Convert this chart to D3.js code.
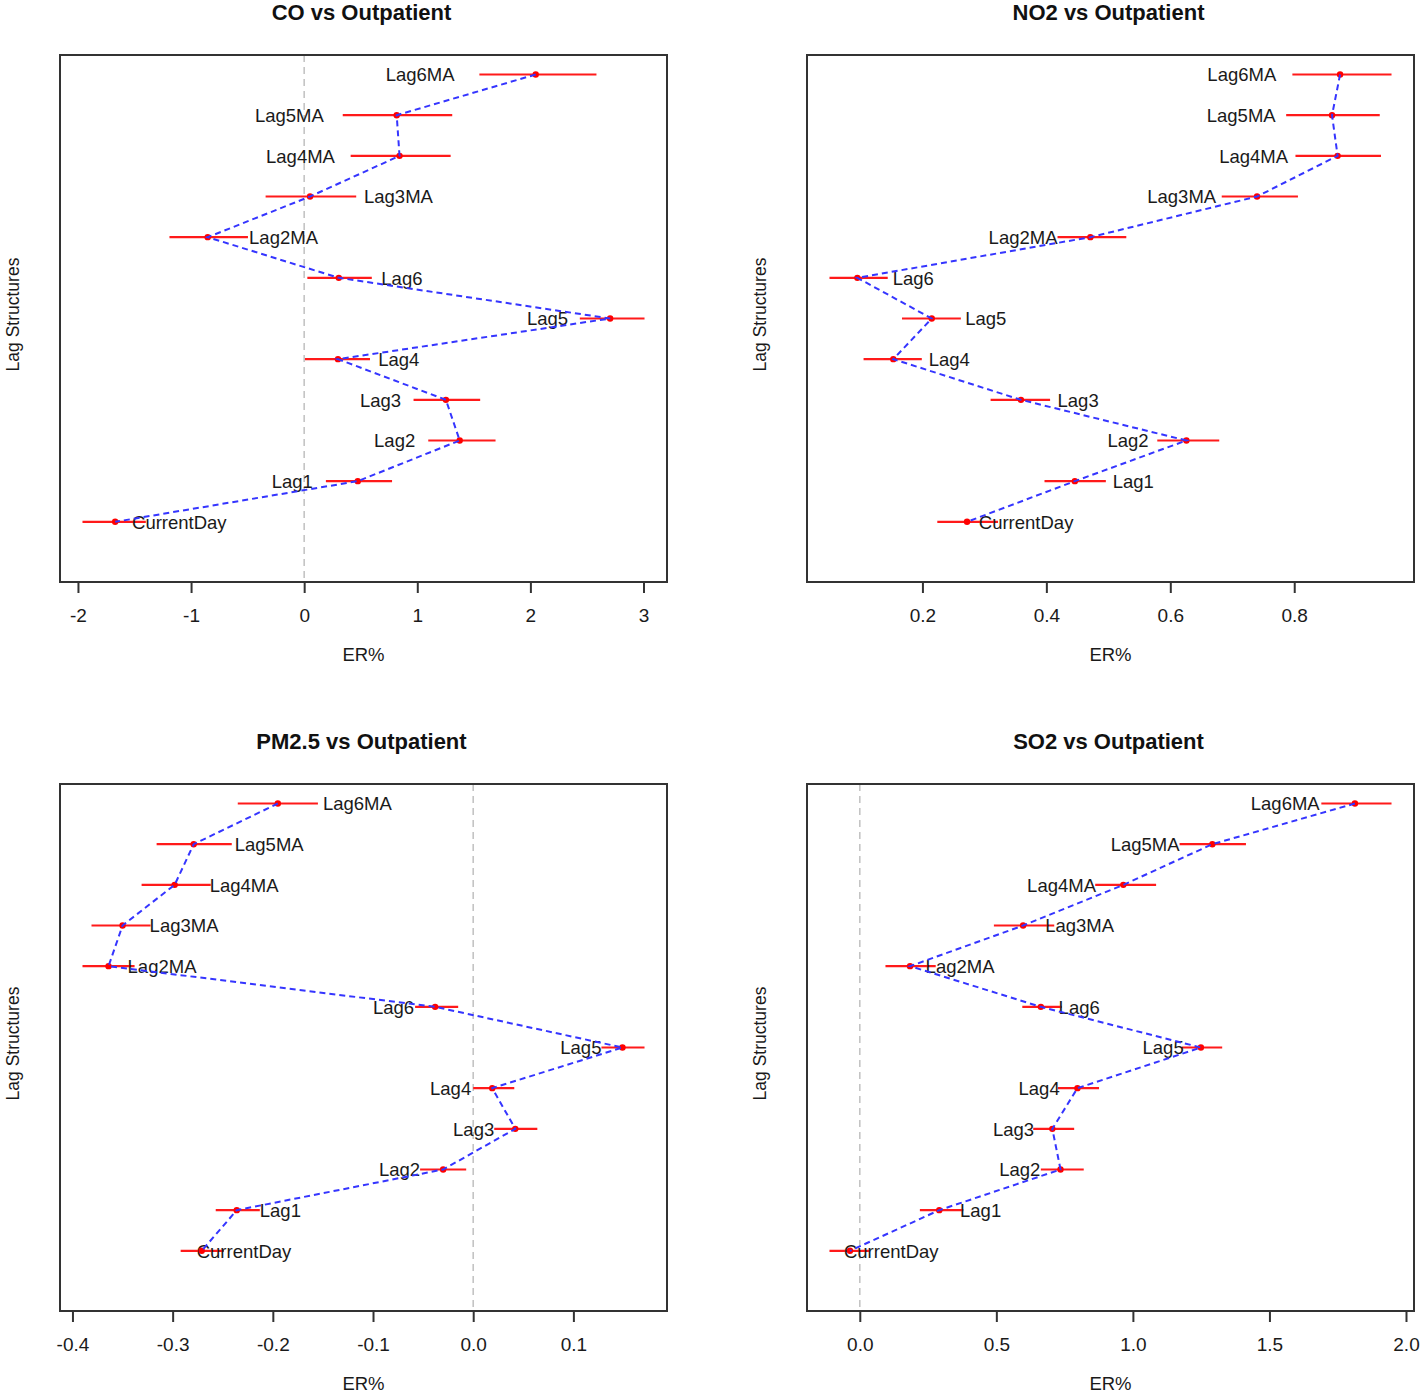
<!DOCTYPE html>
<html>
<head>
<meta charset="utf-8">
<script src="https://cdn.jsdelivr.net/npm/d3@7"></script>
<style>
  html, body { margin: 0; padding: 0; background: #fff; }
  svg { display: block; font-family: "Liberation Sans", Arial, sans-serif; }
</style>
</head>
<body>
<svg id="chart" width="1424" height="1395"></svg>
<script>
// ---------------- data ----------------
const categories = ["Lag6MA","Lag5MA","Lag4MA","Lag3MA","Lag2MA","Lag6","Lag5","Lag4","Lag3","Lag2","Lag1","CurrentDay"];

const titles = ["CO vs Outpatient", "NO2 vs Outpatient", "PM2.5 vs Outpatient", "SO2 vs Outpatient"];

// CO
const coEst   = [2.047, 0.818, 0.843, 0.052, -0.853, 0.306, 2.705, 0.299, 1.253, 1.375, 0.474, -1.671];
const coLow   = [1.549, 0.341, 0.411, -0.341, -1.191, 0.028, 2.437, 0.007, 0.967, 1.097, 0.192, -1.960];
const coHigh  = [2.584, 1.309, 1.295, 0.460, -0.497, 0.598, 3.009, 0.582, 1.556, 1.692, 0.777, -1.400];
const coLabX  = [1.330, 0.174, 0.272, 0.529, -0.487, 0.682, 2.333, 0.655, 0.857, 0.982, 0.077, -1.522];
const coSide  = ["L","L","L","R","R","R","L","R","L","L","L","R"];
const coTicks = [-2, -1, 0, 1, 2, 3];

// NO2
const no2Est  = [0.874, 0.861, 0.870, 0.740, 0.471, 0.095, 0.215, 0.153, 0.359, 0.626, 0.446, 0.272];
const no2Low  = [0.797, 0.787, 0.802, 0.683, 0.418, 0.050, 0.167, 0.105, 0.310, 0.579, 0.397, 0.224];
const no2High = [0.957, 0.938, 0.940, 0.806, 0.529, 0.144, 0.262, 0.199, 0.406, 0.679, 0.496, 0.322];
const no2LabX = [0.771, 0.770, 0.790, 0.674, 0.418, 0.152, 0.269, 0.210, 0.418, 0.565, 0.507, 0.291];
const no2Side = ["L","L","L","L","L","R","R","R","R","L","R","R"];
const no2Ticks = [0.2, 0.4, 0.6, 0.8];

// PM2.5
const pmEst   = [-0.195, -0.279, -0.298, -0.350, -0.364, -0.038, 0.149, 0.019, 0.042, -0.030, -0.236, -0.271];
const pmLow   = [-0.235, -0.316, -0.331, -0.381, -0.390, -0.058, 0.128, 0.000, 0.021, -0.053, -0.257, -0.292];
const pmHigh  = [-0.155, -0.241, -0.262, -0.322, -0.338, -0.015, 0.171, 0.041, 0.064, -0.007, -0.213, -0.249];
const pmLabX  = [-0.150, -0.238, -0.263, -0.323, -0.345, -0.059, 0.128, -0.002, 0.021, -0.053, -0.213, -0.276];
const pmSide  = ["R","R","R","R","R","L","L","L","L","L","R","R"];
const pmTicks = [-0.4, -0.3, -0.2, -0.1, 0.0, 0.1];

// SO2
const so2Est  = [1.813, 1.291, 0.965, 0.598, 0.184, 0.663, 1.249, 0.797, 0.705, 0.735, 0.291, -0.036];
const so2Low  = [1.690, 1.171, 0.862, 0.491, 0.094, 0.595, 1.179, 0.725, 0.635, 0.663, 0.220, -0.111];
const so2High = [1.947, 1.414, 1.085, 0.712, 0.278, 0.739, 1.327, 0.876, 0.785, 0.820, 0.379, 0.036];
const so2LabX = [1.684, 1.171, 0.865, 0.679, 0.241, 0.728, 1.186, 0.732, 0.638, 0.661, 0.367, -0.058];
const so2Side = ["L","L","L","R","R","R","L","L","L","L","R","R"];
const so2Ticks = [0.0, 0.5, 1.0, 1.5, 2.0];

const tickDecimals = [0, 1, 1, 1];

// ---------------- layout ----------------
const svg = d3.select("#chart");
const W = 607, H = 527;
const origins = [[60, 55], [807, 55], [60, 784], [807, 784]];

const panels = [
  {est: coEst,  low: coLow,  high: coHigh,  labX: coLabX,  side: coSide,  ticks: coTicks},
  {est: no2Est, low: no2Low, high: no2High, labX: no2LabX, side: no2Side, ticks: no2Ticks},
  {est: pmEst,  low: pmLow,  high: pmHigh,  labX: pmLabX,  side: pmSide,  ticks: pmTicks},
  {est: so2Est, low: so2Low, high: so2High, labX: so2LabX, side: so2Side, ticks: so2Ticks}
];

panels.forEach((p, i) => {
  const [ox, oy] = origins[i];
  const g = svg.append("g").attr("transform", `translate(${ox},${oy})`);

  // R-style 4% extension
  const lo = d3.min(p.low), hi = d3.max(p.high);
  const ext = (hi - lo) * 0.04;
  const x = d3.scaleLinear().domain([lo - ext, hi + ext]).range([0, W]);
  const y = d3.scaleLinear().domain([-0.48, 12.48]).range([H, 0]);

  const rows = categories.map((c, k) => ({
    cat: c, yv: 12 - k, est: p.est[k], low: p.low[k], high: p.high[k], labX: p.labX[k], side: p.side[k]
  }));

  // zero reference line
  const [d0, d1] = x.domain();
  if (0 > d0 && 0 < d1) {
    g.append("line")
      .attr("x1", x(0)).attr("x2", x(0))
      .attr("y1", 0).attr("y2", H)
      .attr("stroke", "#c4c4c4").attr("stroke-width", 1.6)
      .attr("stroke-dasharray", "7,5");
  }

  // CI segments
  g.selectAll("line.ci").data(rows).join("line")
    .attr("class", "ci")
    .attr("x1", d => x(d.low)).attr("x2", d => x(d.high))
    .attr("y1", d => y(d.yv)).attr("y2", d => y(d.yv))
    .attr("stroke", "#ff1a1a").attr("stroke-width", 2.2);

  // labels
  g.selectAll("text.lab").data(rows).join("text")
    .attr("class", "lab")
    .attr("x", d => x(d.labX))
    .attr("y", d => y(d.yv) + 6.8)
    .attr("text-anchor", d => d.side === "L" ? "end" : "start")
    .attr("font-size", "18.5px")
    .attr("fill", "#1a1a1a")
    .text(d => d.cat);

  // points
  g.selectAll("circle.pt").data(rows).join("circle")
    .attr("class", "pt")
    .attr("cx", d => x(d.est)).attr("cy", d => y(d.yv))
    .attr("r", 3.2)
    .attr("fill", "#ff0000");

  // dashed connecting line
  const line = d3.line().x(d => x(d.est)).y(d => y(d.yv));
  g.append("path")
    .attr("d", line(rows))
    .attr("fill", "none")
    .attr("stroke", "#3535ff").attr("stroke-width", 2)
    .attr("stroke-dasharray", "6,4");

  // box
  g.append("rect")
    .attr("x", 0).attr("y", 0).attr("width", W).attr("height", H)
    .attr("fill", "none").attr("stroke", "#333").attr("stroke-width", 2);

  // x axis
  const axis = d3.axisBottom(x)
    .tickValues(p.ticks)
    .tickSize(11)
    .tickPadding(16)
    .tickFormat(v => d3.format(`.${tickDecimals[i]}f`)(v).replace("−", "-"));
  const ax = g.append("g").attr("transform", `translate(0,${H})`).call(axis);
  ax.select(".domain").attr("stroke", "#333").attr("stroke-width", 2)
    .attr("d", `M${x(p.ticks[0])},0H${x(p.ticks[p.ticks.length - 1])}`);
  ax.selectAll(".tick line").attr("stroke", "#333").attr("stroke-width", 2);
  ax.selectAll(".tick text")
    .attr("font-size", "19px")
    .attr("font-family", "Liberation Sans, Arial, sans-serif")
    .attr("fill", "#1a1a1a");

  // axis titles
  g.append("text")
    .attr("x", W / 2).attr("y", H + 79)
    .attr("text-anchor", "middle")
    .attr("font-size", "18.5px").attr("fill", "#1a1a1a")
    .text("ER%");

  g.append("text")
    .attr("transform", `translate(${-41},${H / 2 - 4}) rotate(-90)`)
    .attr("text-anchor", "middle")
    .attr("font-size", "17.5px").attr("fill", "#1a1a1a")
    .text("Lag Structures");

  // title
  g.append("text")
    .attr("x", W / 2 - 2).attr("y", -35)
    .attr("text-anchor", "middle")
    .attr("font-size", "22px").attr("font-weight", "bold").attr("fill", "#111")
    .text(titles[i]);
});
</script>
</body>
</html>
